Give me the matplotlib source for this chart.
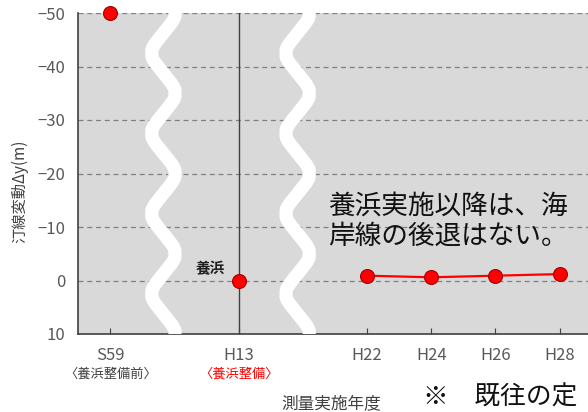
import numpy as np
import matplotlib
matplotlib.use("Agg")
import matplotlib.pyplot as plt
import matplotlib.transforms as mtransforms

plt.rcParams['font.family'] = ['Noto Sans CJK JP', 'DejaVu Sans']

# ---- data ----
categories = ['S59', '', 'H13', '', 'H22', 'H24', 'H26', 'H28', '']
sublabels = ['〈養浜整備前〉', '', '〈養浜整備〉', '', '', '', '', '', '']
sublabel_colors = ['#404040', '#404040', '#ff0000', '#404040', '#404040',
                   '#404040', '#404040', '#404040', '#404040']
values = [-50, np.nan, 0, np.nan, -0.9, -0.6, -0.9, -1.2, np.nan]
line_idx = [4, 5, 6, 7]          # points connected by the red line
yticks = [-50, -40, -30, -20, -10, 0, 10]
ylim = (10, -50)
note_text = '養浜実施以降は、海\n岸線の後退はない。'
point_label = '養浜'
footnote = '※　既往の定'


def cut_corners(xs, ys, r=0.15, n=2):
    p = np.column_stack([xs, ys])
    for _ in range(n):
        q = [p[0]]
        for a, b in zip(p[:-1], p[1:]):
            q.append((1 - r) * a + r * b)
            q.append(r * a + (1 - r) * b)
        q.append(p[-1])
        p = np.array(q)
    return p[:, 0], p[:, 1]


# ---- figure ----
fig = plt.figure(figsize=(5.88, 4.12), dpi=100)
ax = fig.add_axes([78/588, 78/412, 578/588, 321/412])
ax.set_facecolor('#d9d9d9')

x = np.arange(len(categories))
ax.set_xlim(-0.5, len(categories) - 0.5)
ax.set_ylim(*ylim)
ax.set_yticks(yticks)

# grid
for yv in yticks[:-1]:
    ax.axhline(yv, color='#808080', lw=0.9, ls=(0, (4, 3)), zorder=1)

# vertical line at H13
ax.axvline(x[2], color='#404040', lw=1.0, zorder=2)

# zigzag break marks (white)
trans = mtransforms.blended_transform_factory(ax.transData, ax.transAxes)
for c in [0.83, 2.92]:
    n = 11
    xs = [c + (0.25 if i % 2 == 1 else -0.25) for i in range(n)]
    ys = [1.125 - 0.125 * i for i in range(n)]
    sx, sy = cut_corners(xs, ys, 0.14, 3)
    ax.plot(sx, sy, color='white', lw=9.5, solid_joinstyle='round',
            solid_capstyle='butt', transform=trans, zorder=3, clip_on=True)

# data
vals = np.array(values, dtype=float)
ax.plot(x[line_idx], vals[line_idx], color='#ff0000', lw=1.6, zorder=4)
mask = ~np.isnan(vals)
ax.plot(x[mask], vals[mask], 'o', ms=10, mfc='#ff0000', mec='#a00000',
        mew=0.8, zorder=5, clip_on=False, ls='none')

ax.annotate(point_label, (x[2], vals[2]), xytext=(-20, 9),
            textcoords='offset points', ha='center', va='center',
            fontsize=10.5, color='#202020', fontweight='bold', zorder=6)

ax.text(328/588, 1 - 221/412, note_text, transform=fig.transFigure,
        fontsize=19.2, ha='left', va='center', linespacing=1.15,
        color='#111111', zorder=6)

# axes styling
for s in ['top', 'right']:
    ax.spines[s].set_visible(False)
for s in ['left', 'bottom']:
    ax.spines[s].set_color('#404040')
    ax.spines[s].set_linewidth(1.2)
    ax.spines[s].set_zorder(2)

ax.set_xticks(x)
ax.set_xticklabels(categories)
ax.tick_params(axis='x', direction='in', length=4, color='#404040',
               pad=9, labelsize=12, labelcolor='#595959')
ax.tick_params(axis='y', length=0, pad=9, labelsize=12, labelcolor='#595959')

for xi, (lab, col) in enumerate(zip(sublabels, sublabel_colors)):
    if lab:
        ax.text(xi, -0.125, lab, transform=trans, ha='center', va='center',
                fontsize=9.5, color=col)

fig.text(20/588, 1 - 191/412, '汀線変動Δy(m)', rotation=90, ha='center',
         va='center', fontsize=11, color='#404040')
fig.text(331/588, 1 - 404/412, '測量実施年度', ha='center', va='center',
         fontsize=12, color='#404040')
fig.text(423/588, 1 - 398/412, footnote, ha='left', va='center',
         fontsize=18.5, color='#111111')

fig.savefig('out.png', dpi=100)
